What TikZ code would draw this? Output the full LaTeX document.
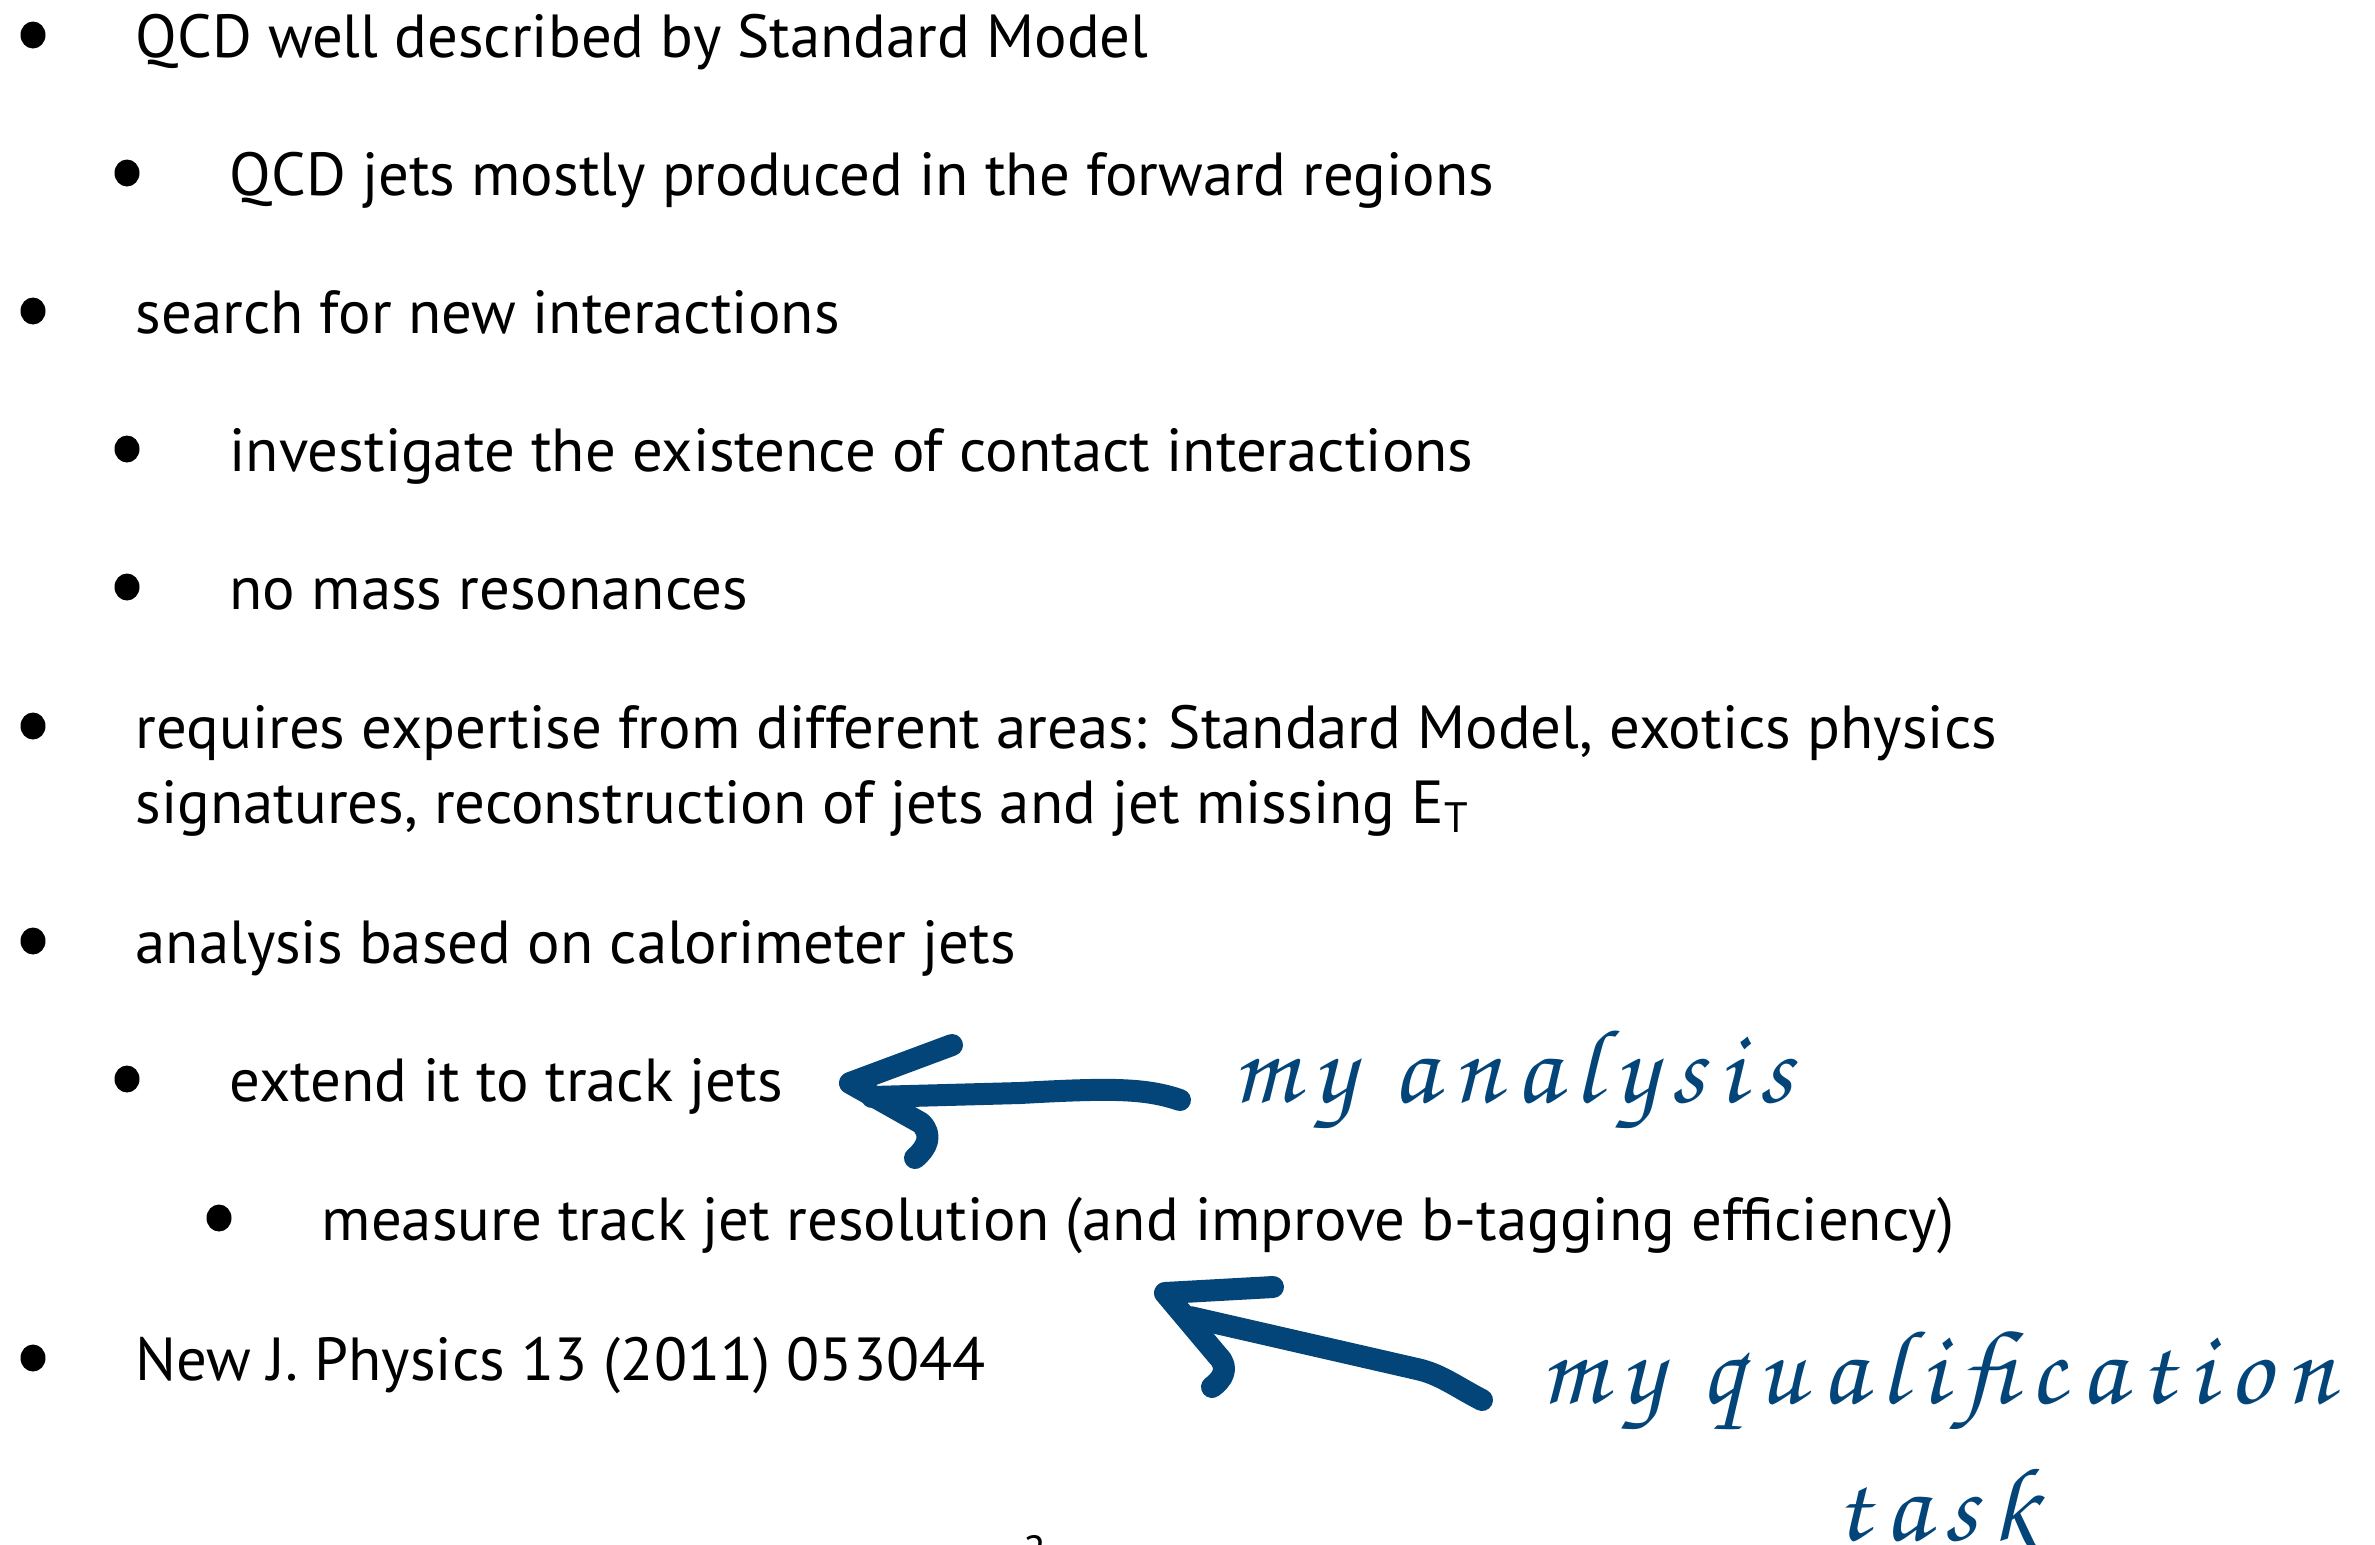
\documentclass[tikz,border=0pt]{standalone}
\usepackage{fontspec}
\setmainfont{PT Sans}
\newfontfamily\handfont{texgyrechorus-mediumitalic.otf}[LetterSpace=14]
\usepackage{xcolor}
\usetikzlibrary{positioning,shapes.geometric}
\definecolor{inkblue}{RGB}{3,69,121}

\begin{document}
\begin{tikzpicture}[
		x=0.1mm,y=-0.1mm,
		item/.style={anchor=base west,inner sep=0pt,font=\fontsize{17.3}{21}\selectfont},
		bul/.style={ellipse,fill=black,inner sep=0pt,minimum width=2.5mm,minimum height=2.7mm},
		hand/.style={anchor=base west,inner sep=0pt,text=inkblue,font=\handfont\fontsize{30}{32}\selectfont},
		brush/.style={draw=inkblue,line width=2.2mm,line cap=round,line join=round}
		]
		\useasboundingbox (0,0) rectangle (2375,1545);
		% bullet text
		\node[item] (qcd) at (135,57) {QCD well described by Standard Model};
		\node[item] (fwd) at (229,195) {QCD jets mostly produced in the forward regions};
		\node[item] (search) at (135,333) {search for new interactions};
		\node[item] (contact) at (229,471) {investigate the existence of contact interactions};
		\node[item] (nomass) at (229,609) {no mass resonances};
		\node[item] (expert) at (135,748) {requires expertise from different areas: Standard Model, exotics physics};
		\node[item] (expertb) at ([yshift=-7.5mm]expert.base west) {signatures, reconstruction of jets and jet missing E\textsubscript{T}};
		\node[item] (calo) at (135,963) {analysis based on calorimeter jets};
		\node[item] (track) at (229,1101) {extend it to track jets};
		\node[item] (resol) at (321,1240) {measure track jet resolution (and improve b-tagging efficiency)};
		\node[item] (njp) at (135,1380) {New J. Physics 13 (2011) 053044};
		% bullets
		\node[bul] (bqcd) at ([xshift=-10.2mm,yshift=2.2mm]qcd.base west) {};
		\node[bul] (bfwd) at ([xshift=-10.2mm,yshift=2.2mm]fwd.base west) {};
		\node[bul] (bsearch) at ([xshift=-10.2mm,yshift=2.2mm]search.base west) {};
		\node[bul] (bcontact) at ([xshift=-10.2mm,yshift=2.2mm]contact.base west) {};
		\node[bul] (bnomass) at ([xshift=-10.2mm,yshift=2.2mm]nomass.base west) {};
		\node[bul] (bexpert) at ([xshift=-10.2mm,yshift=2.2mm]expert.base west) {};
		\node[bul] (bcalo) at ([xshift=-10.2mm,yshift=2.2mm]calo.base west) {};
		\node[bul] (btrack) at ([xshift=-10.2mm,yshift=2.2mm]track.base west) {};
		\node[bul] (bresol) at ([xshift=-10.2mm,yshift=2.2mm]resol.base west) {};
		\node[bul] (bnjp) at ([xshift=-10.2mm,yshift=2.2mm]njp.base west) {};
		% handwritten notes
		\node[hand] (ana) at (1232,1102) {my analysis};
		\node[hand] (qual) at (1540,1403) {my qualification};
		\node[hand] (task) at (1835,1540) {task};
		\node[anchor=north,inner sep=0pt,font=\fontsize{12}{14}\selectfont] (pg) at (1035,1535) {2};
		% arrow to track jets
		\coordinate (tailA) at (1180,1100);
		\coordinate (tipA) at (850,1083);
		\draw[brush] (tailA) .. controls (1145,1088) and (1110,1088) .. (1020,1093) -- (872,1097);
		\draw[brush] (952,1045) -- (tipA) -- (921,1123) .. controls (933,1135) and (927,1148) .. (915,1158);
		% arrow to resolution
		\coordinate (tailB) at (1482,1400);
		\coordinate (tipB) at (1165,1293);
		\draw[brush] (tailB) .. controls (1455,1386) and (1440,1374) .. (1417,1369) -- (1190,1317);
		\draw[brush] (1273,1287) -- (tipB) -- (1218,1356) .. controls (1230,1368) and (1222,1380) .. (1212,1387);
	\end{tikzpicture}
\end{document}
